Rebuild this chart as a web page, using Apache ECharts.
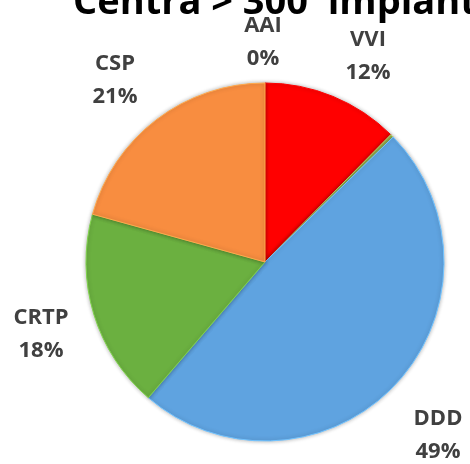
<!DOCTYPE html>
<html>
<head>
	<meta charset="utf-8">
	<title>Centra > 300 impianti</title>
	<script src="https://cdn.jsdelivr.net/npm/echarts@6/dist/echarts.min.js"></script>
	<style>
		html, body { margin: 0; padding: 0; background: #fff; }
		#main { width: 470px; height: 464px; }
	</style>
</head>
<body>
	<div id="main"></div>
	<script type="text/javascript">
		// dati (quota %)
		var categories = ['VVI', 'AAI', 'DDD', 'CRTP', 'CSP'];
		var shares = [12.4, 0.3, 48.6, 18.0, 20.7];
		var colors = ['#ff0000', '#9bbb59', '#5fa3e0', '#6bb040', '#f88d40'];

		// posizione delle etichette (centro del testo)
		var labelPos = [[368, 56], [263, 42], [438, 435], [41, 334], [115, 80]];

		var myChart = echarts.init(document.getElementById('main'));

		var pieData = categories.map(function (name, i) {
			return {
				name: name,
				value: shares[i],
				itemStyle: {
					color: colors[i],
					borderColor: echarts.color.lift(colors[i], -0.2),
					borderWidth: 1
				}
			};
		});

		var option = {
			title: {
				text: 'Centra > 300  impiantati',
				left: 68,
				top: -21,
				textStyle: {
					fontFamily: 'Open Sans',
					fontWeight: 'bold',
					fontSize: 38,
					color: '#000'
				}
			},
			series: [
				{
					type: 'pie',
					center: [265, 262],
					radius: 179,
					startAngle: 90,
					clockwise: true,
					data: pieData,
					itemStyle: {
						shadowBlur: 4,
						shadowColor: 'rgba(0,0,0,0.3)'
					},
					label: {
						show: true,
						position: 'outside',
						overflow: 'none',
						formatter: function (p) {
							return p.name + '\n' + Math.round(p.value) + '%';
						},
						fontFamily: 'Open Sans',
						fontWeight: 'bold',
						fontSize: 22,
						lineHeight: 33,
						color: '#404040',
						align: 'center',
						verticalAlign: 'middle'
					},
					labelLine: { show: false },
					labelLayout: function (params) {
						var p = labelPos[params.dataIndex];
						return {
							x: p[0], y: p[1],
							align: 'center', verticalAlign: 'middle',
							hideOverlap: false, moveOverlap: false
						};
					},
					emphasis: { disabled: true }
				}
			]
		};

		myChart.setOption(option);
	</script>
</body>
</html>
